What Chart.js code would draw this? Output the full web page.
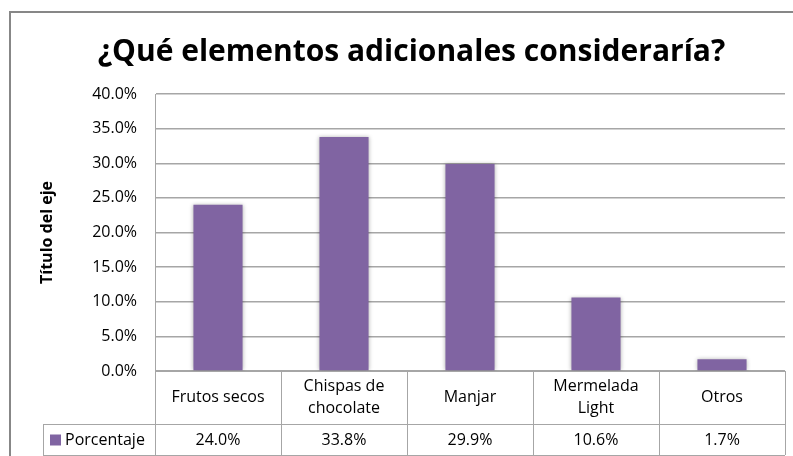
<!DOCTYPE html>
<html>
<head>
<meta charset="utf-8">
<script src="https://cdn.jsdelivr.net/npm/chart.js@4"></script>
<style>
  html, body { margin: 0; padding: 0; background: #fff; }
  #wrap { width: 793px; height: 456px; }
</style>
</head>
<body>
<div id="wrap"><canvas id="chart" width="793" height="456"></canvas></div>
<script>
const categories = ['Frutos secos', ['Chispas de', 'chocolate'], 'Manjar', ['Mermelada', 'Light'], 'Otros'];
const seriesName = 'Porcentaje';
const porcentaje = [24.0, 33.8, 29.9, 10.6, 1.7];
const yTicks = [0, 5, 10, 15, 20, 25, 30, 35, 40];

const FONT = "'Open Sans', sans-serif";
const BAR = '#8064A2';
const LINE = '#a6a6a6';

const fmt = v => v.toFixed(1) + '%';

// soft halo round the bars
const barShadow = {
  id: 'barShadow',
  beforeDatasetsDraw(chart) {
    const ctx = chart.ctx;
    ctx.save();
    ctx.shadowColor = 'rgba(0,0,0,0.3)';
    ctx.shadowBlur = 4;
  },
  afterDatasetsDraw(chart) {
    chart.ctx.restore();
  }
};

// data table under the plot + outer frame
const dataTable = {
  id: 'dataTable',
  afterDraw(chart) {
    const { ctx, chartArea: a, scales: { x } } = chart;
    const top = a.bottom, mid = 424, bot = 455, keyLeft = 43;
    const colW = x.width / categories.length;

    const line = (x1, y1, x2, y2) => {
      ctx.beginPath();
      ctx.moveTo(x1, y1);
      ctx.lineTo(x2, y2);
      ctx.stroke();
    };

    ctx.save();
    ctx.strokeStyle = LINE;
    ctx.lineWidth = 1;
    line(a.left, top + 0.5, a.right, top + 0.5);
    line(keyLeft, mid + 0.5, a.right, mid + 0.5);
    line(keyLeft, bot + 0.5, a.right, bot + 0.5);
    line(keyLeft + 0.5, mid, keyLeft + 0.5, bot);
    categories.forEach((c, i) => {
      const r = Math.round(x.getPixelForValue(i) + colW / 2) + 0.5;
      line(r, top, r, bot);
    });
    line(Math.round(a.left) + 0.5, top, Math.round(a.left) + 0.5, bot);

    ctx.fillStyle = '#000';
    ctx.font = '16px ' + FONT;
    ctx.textAlign = 'center';
    ctx.textBaseline = 'middle';
    const rowC = (top + mid) / 2;
    categories.forEach((c, i) => {
      const cx = x.getPixelForValue(i);
      const lines = Array.isArray(c) ? c : [c];
      const lh = 22;
      lines.forEach((t, j) => {
        ctx.fillText(t, cx, rowC + (j - (lines.length - 1) / 2) * lh);
      });
      ctx.fillText(fmt(porcentaje[i]), cx, (mid + bot) / 2 + 1);
    });

    // legend key
    ctx.fillStyle = BAR;
    ctx.fillRect(50, (mid + bot) / 2 - 5, 11, 11);
    ctx.fillStyle = '#000';
    ctx.textAlign = 'left';
    ctx.fillText(seriesName, 65, (mid + bot) / 2 + 1);

    // chart frame
    ctx.strokeStyle = '#878787';
    ctx.lineWidth = 2;
    ctx.beginPath();
    ctx.moveTo(10, 456);
    ctx.lineTo(10, 12);
    ctx.lineTo(793, 12);
    ctx.stroke();
    ctx.restore();
  }
};

new Chart(document.getElementById('chart'), {
  type: 'bar',
  data: {
    labels: categories,
    datasets: [{
      label: seriesName,
      data: porcentaje,
      backgroundColor: BAR,
      borderWidth: 0,
      barPercentage: 0.39,
      categoryPercentage: 1
    }]
  },
  options: {
    responsive: false,
    animation: false,
    devicePixelRatio: 1,
    layout: { padding: { left: 38, right: 8, top: 14, bottom: 77 } },
    plugins: {
      legend: { display: false },
      tooltip: { enabled: false },
      title: {
        display: true,
        text: '¿Qué elementos adicionales consideraría?',
        color: '#000',
        font: { family: FONT, size: 30, weight: 'bold' },
        padding: { top: 20, bottom: 24 }
      }
    },
    scales: {
      x: {
        ticks: { display: false },
        grid: { display: false },
        border: { display: false }
      },
      y: {
        min: 0,
        max: 40,
        afterFit(scale) { scale.width = 117; },
        afterBuildTicks(scale) { scale.ticks = yTicks.map(v => ({ value: v })); },
        ticks: {
          padding: 18,
          color: '#000',
          font: { family: FONT, size: 16 },
          callback: v => fmt(v)
        },
        grid: { color: LINE, lineWidth: 1.5, drawTicks: false },
        border: { display: true, color: LINE, width: 1 },
        title: {
          display: true,
          text: 'Título del eje',
          color: '#000',
          font: { family: FONT, size: 16, weight: 'bold' },
          padding: { top: 0, bottom: 0 }
        }
      }
    }
  },
  plugins: [barShadow, dataTable]
});
</script>
</body>
</html>
